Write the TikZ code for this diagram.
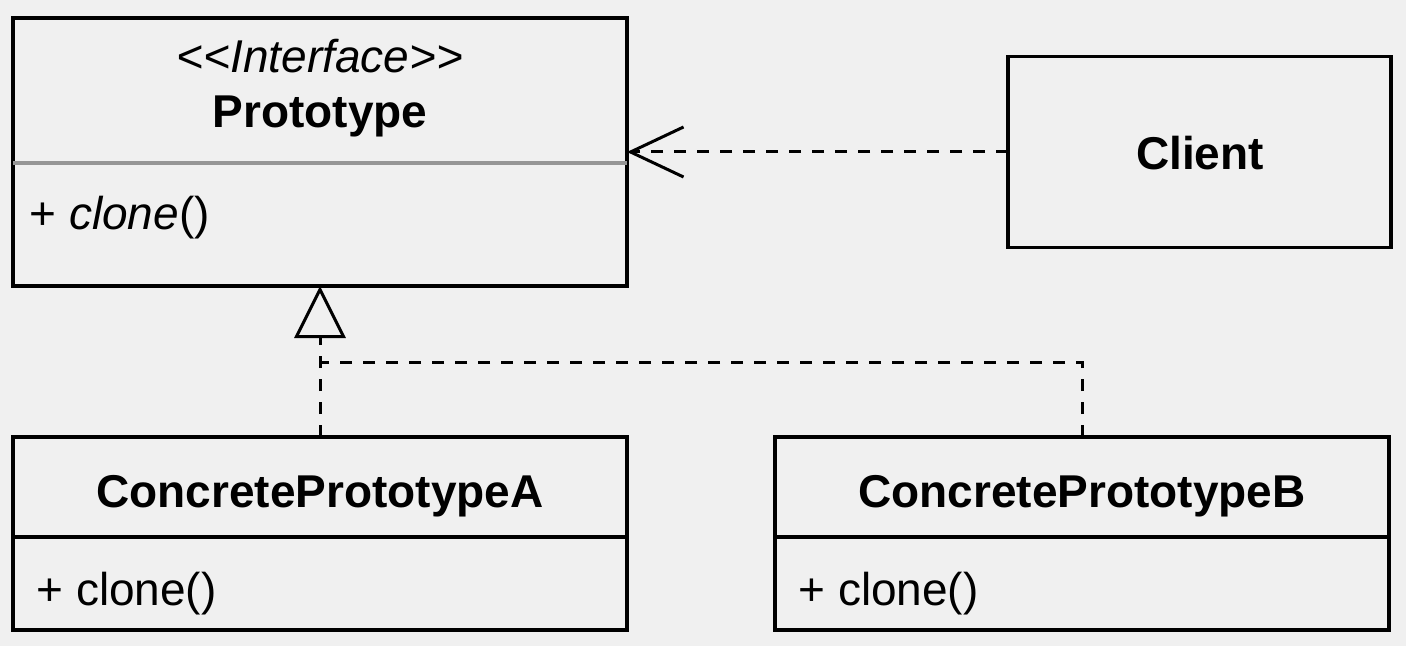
\documentclass[tikz,border=0pt]{standalone}
\usepackage{fontspec}
\setmainfont{Liberation Sans}
\usetikzlibrary{arrows.meta}
\definecolor{bg}{RGB}{240,240,240}
\definecolor{divgray}{RGB}{150,150,150}
\begin{document}
\begin{tikzpicture}[x=0.5pt,y=-0.5pt,
  box/.style={draw, line width=1.7pt, rectangle, inner sep=0pt, outer sep=0pt},
  lbl/.style={inner sep=0pt, font=\fontsize{23}{27.6}\selectfont},
  dep/.style={line width=1.5pt, dash pattern=on 6pt off 5.5pt},
  divider/.style={line width=1.7pt},
]
\fill[bg] (0,0) rectangle (1406,646);
\useasboundingbox (0,0) rectangle (1406,646);

% Prototype interface
\node[box, minimum width=307pt, minimum height=134pt] (proto) at (320,152) {};
\node[lbl, anchor=base] (stereo) at (320,73) {\itshape <\kern0pt<Interface>\kern0pt>};
\node[lbl, anchor=base] (protoname) at (320,128) {\bfseries Prototype};
\draw[divider, divgray] (proto.west |- 0,163) -- (proto.east |- 0,163);
\node[lbl, anchor=base west] (protoop) at (29,230) {+ \textit{clone}()};

% Client
\node[box, minimum width=191.5pt, minimum height=95.5pt] (client) at (1199.5,152) {};
\node[lbl, anchor=base] (clientname) at (1200,170) {\bfseries Client};

% ConcretePrototypeA
\node[box, minimum width=307pt, minimum height=96.5pt] (cpa) at (320,533.5) {};
\node[lbl, anchor=base] (cpaname) at (320,507) {\bfseries ConcretePrototypeA};
\draw[divider] (cpa.west |- 0,537) -- (cpa.east |- 0,537);
\node[lbl, anchor=base west] (cpaop) at (36,605) {+ clone()};

% ConcretePrototypeB
\node[box, minimum width=307pt, minimum height=96.5pt] (cpb) at (1082,533.5) {};
\node[lbl, anchor=base] (cpbname) at (1082,507) {\bfseries ConcretePrototypeB};
\draw[divider] (cpb.west |- 0,537) -- (cpb.east |- 0,537);
\node[lbl, anchor=base west] (cpbop) at (798,605) {+ clone()};

% Dependency Client -> Prototype
\draw[dep, -{Straight Barb[length=26.5pt, width=25pt, line width=1.5pt]}]
  (client.west) -- (client.west -| proto.east);

% Realization
\coordinate (join) at (cpa.north |- 0,362);
\draw[dep, -{Triangle[fill=bg, length=26pt, width=25.5pt, line width=1.5pt]}]
  (cpa.north) -- (cpa.north |- proto.south);
\draw[dep] (cpb.north) |- (join);
\end{tikzpicture}
\end{document}
